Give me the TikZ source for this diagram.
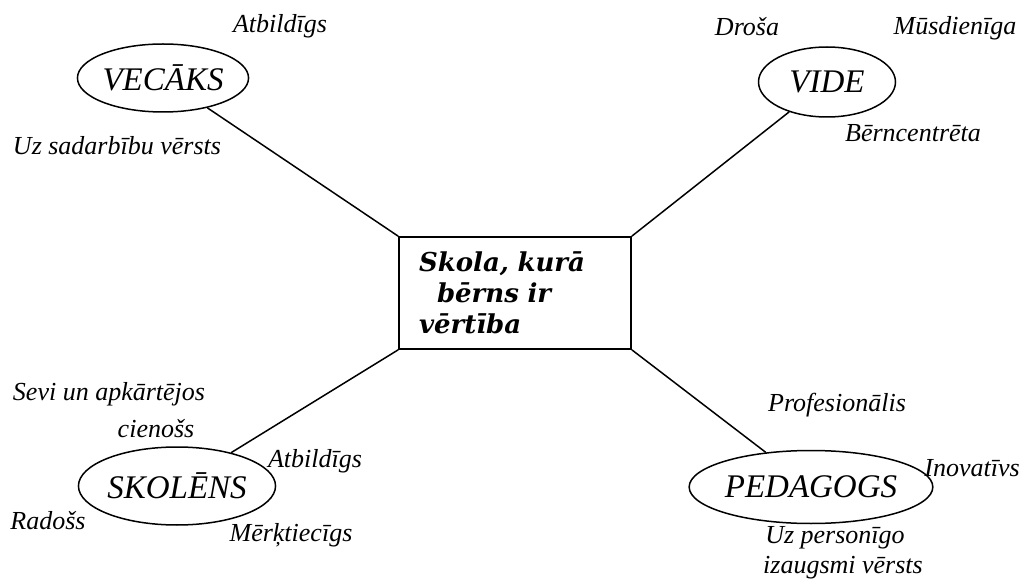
\documentclass[tikz,border=0pt]{standalone}
\usepackage{fontspec}
\setmainfont{Liberation Serif}
\newfontfamily\boxfont{DejaVu Serif}
\usetikzlibrary{shapes.geometric}
\tikzset{%
  myrole/.style={ellipse, draw=black, line width=1.5pt, inner sep=0pt,
    font=\fontsize{33}{36}\selectfont\itshape},
  mytrait/.style={font=\fontsize{26}{30}\selectfont\itshape, align=center},
  mybox/.style={draw=black, line width=1.7pt, minimum height=112, text width=192,
    inner xsep=20pt, inner ysep=0pt,
    font=\boxfont\fontsize{26}{31}\selectfont\bfseries\itshape, align=left},
  myedge/.style={line width=1.5pt}
}
\begin{document}
\begin{tikzpicture}[x=1pt, y=-1pt]
  \useasboundingbox (0,0) rectangle (1029,588);
  % centre
  \node[mybox] (skola) at (515,293) {Skola, kurā\\\hspace*{18pt}bērns ir\\vērtība};
  % roles
  \node[myrole, minimum width=154, minimum height=68] (vecaks) at (163,78) {VECĀKS};
  \node[myrole, minimum width=137, minimum height=70] (vide) at (827,82) {VIDE};
  \node[myrole, minimum width=166, minimum height=78] (skolens) at (177,486) {SKOLĒNS};
  \node[myrole, minimum width=235, minimum height=73] (pedagogs) at (811,487) {PEDAGOGS};
  % traits
  \node[mytrait] (t1) at (280,26) {Atbildīgs};
  \node[mytrait] (t2) at (117,146) {Uz sadarbību vērsts};
  \node[mytrait] (t3) at (747,27) {Droša};
  \node[mytrait] (t4) at (955,28) {Mūsdienīga};
  \node[mytrait] (t5) at (913,133) {Bērncentrēta};
  \node[mytrait] (t6) at (109,394) {Sevi un apkārtējos};
  \node[mytrait] (t7) at (156,429) {cienošs};
  \node[mytrait] (t8) at (315,461) {Atbildīgs};
  \node[mytrait] (t9) at (48,521) {Radošs};
  \node[mytrait] (t10) at (291,535) {Mērķtiecīgs};
  \node[mytrait] (t11) at (837,405) {Profesionālis};
  \node[mytrait] (t12) at (972,468) {Inovatīvs};
  \node[mytrait] (t13) at (835,538) {Uz personīgo};
  \node[mytrait] (t14) at (843,568) {izaugsmi vērsts};
  % spokes
  \draw[myedge] (vecaks) -- (skola.north west);
  \draw[myedge] (vide) -- (skola.north east);
  \draw[myedge] (skolens) -- (skola.south west);
  \draw[myedge] (pedagogs) -- (skola.south east);
\end{tikzpicture}
\end{document}
